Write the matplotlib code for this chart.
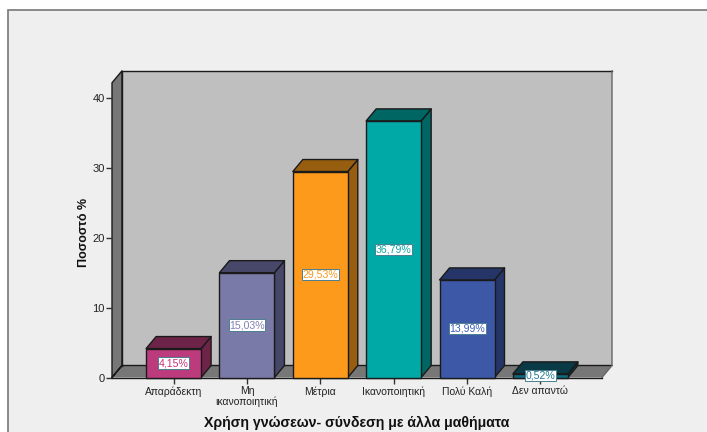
import matplotlib
matplotlib.use("Agg")
import matplotlib.pyplot as plt
from matplotlib.patches import Rectangle

plt.rcParams['font.family'] = ['Liberation Sans', 'DejaVu Sans']

categories = ['Απαράδεκτη', 'Μη\nικανοποιητική', 'Μέτρια', 'Ικανοποιητική', 'Πολύ Καλή', 'Δεν απαντώ']
values = [4.15, 15.03, 29.53, 36.79, 13.99, 0.52]
value_labels = ['4,15%', '15,03%', '29,53%', '36,79%', '13,99%', '0,52%']
front_colors = ['#BC3B7C', '#7A7AA8', '#FD9A1C', '#00A9A6', '#3E58A8', '#0E6A7E']
top_colors = ['#6E2448', '#47476A', '#985E10', '#006663', '#253568', '#0A3A46']
label_colors = ['#C8307A', '#8080B0', '#F59A20', '#10A8A4', '#4060B8', '#207890']
yticks = [0, 10, 20, 30, 40]
xlabel = 'Χρήση γνώσεων- σύνδεση με άλλα μαθήματα'
ylabel = 'Ποσοστό %'

W, H = 707, 432
fig = plt.figure(figsize=(W / 100, H / 100), dpi=100, facecolor='white')

fig.add_artist(Rectangle((8 / W, -0.1), 1.1, 1.1 - 10 / H, transform=fig.transFigure,
                         facecolor='#EFEFEF', edgecolor='#777777', linewidth=1.2, zorder=-5))

left, right, base, y40 = 112, 602, 377.5, 98.5
ax = fig.add_axes([left / W, (H - base) / H, (right - left) / W, (base - y40) / H])
ax.set_xlim(-0.84, 5.84)
ax.set_ylim(0, 40)
ax.patch.set_visible(False)
for s in ax.spines.values():
    s.set_visible(False)

dx = 10 / 73.4
dy = 12 / (279 / 40)
x0, x1 = ax.get_xlim()
ytop = 42.25
edge = '#1a1a1a'
lw = 1.0
kw = dict(edgecolor=edge, linewidth=lw, clip_on=False, joinstyle='round')

# back wall, side wall, floor
ax.fill([x0 + dx, x1 + dx, x1 + dx, x0 + dx], [dy, dy, ytop + dy, ytop + dy],
        facecolor='#BFBFBF', zorder=1, edgecolor='none', clip_on=False)
ax.plot([x0 + dx, x0 + dx, x1 + dx], [dy, ytop + dy, ytop + dy], color=edge, lw=lw, zorder=2, clip_on=False)
ax.fill([x0, x0 + dx, x0 + dx, x0], [0, dy, ytop + dy, ytop],
        facecolor='#777777', zorder=1, **kw)
ax.fill([x0, x1, x1 + dx, x0 + dx], [0, 0, dy, dy],
        facecolor='#777777', zorder=1, edgecolor='none', clip_on=False)
ax.plot([x0 + dx, x0, x0 + dx, x1 + dx], [dy, 0, dy, dy], color=edge, lw=lw, zorder=2, clip_on=False)
ax.plot([x1, x1 + dx, x1 + dx], [0, dy, ytop + dy], color='#666666', lw=lw, zorder=2, clip_on=False)
ax.plot([x0, x1], [0, 0], color=edge, lw=lw, zorder=2, clip_on=False)

w = 55 / 73.4
for i, v in enumerate(values):
    l, r = i - w / 2, i + w / 2
    ax.fill([r, r + dx, r + dx, r], [0, dy, v + dy, v], facecolor=top_colors[i], zorder=3 + i, **kw)
    ax.fill([l, r, r + dx, l + dx], [v, v, v + dy, v + dy], facecolor=top_colors[i], zorder=3 + i, **kw)
    ax.bar(i, v, width=w, color=front_colors[i], edgecolor=edge, linewidth=lw, zorder=3 + i, clip_on=False)
    ax.text(i, v / 2, value_labels[i], ha='center', va='center', fontsize=7.6, color=label_colors[i],
            zorder=20, clip_on=False,
            bbox=dict(boxstyle='square,pad=0.06', facecolor='white', edgecolor='#4A7F90', linewidth=0.7))

ax.set_yticks(yticks)
ax.set_xticks(range(len(categories)))
ax.set_xticklabels(categories, fontsize=7.5, color='#222222', linespacing=1.0)
ax.tick_params(axis='y', length=4.3, width=1, labelsize=8, color='#333333', pad=1, labelcolor='#222222')
ax.tick_params(axis='x', length=4.3, width=1, color='#333333', pad=2)

fig.text(357 / W, (H - 423) / H, xlabel, ha='center', va='center', fontsize=10.2, fontweight='bold', color='#111111')
fig.text(84 / W, (H - 232) / H, ylabel, ha='center', va='center', rotation=90, fontsize=9, fontweight='bold', color='#111111')

fig.savefig('out.png', dpi=100, facecolor='white')
